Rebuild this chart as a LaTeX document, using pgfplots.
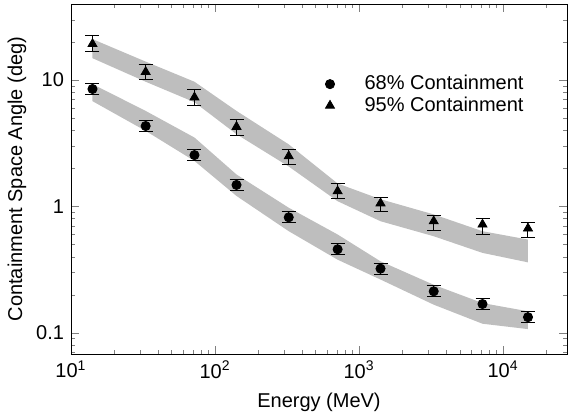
\documentclass[border=0pt]{standalone}
\usepackage{fontspec}
\setmainfont{Liberation Sans}
\usepackage{pgfplots}
\pgfplotsset{compat=1.18}
\definecolor{Band}{RGB}{190,190,190}

\begin{document}
\begin{tikzpicture}
\begin{axis}[
  xmode=log, ymode=log,
  scale only axis, width=248pt, height=175pt,
  xmin=10, xmax=27800, ymin=0.068, ymax=40,
  xtick={10,100,1000,10000},
  xticklabels={10\textsuperscript{1},10\textsuperscript{2},10\textsuperscript{3},10\textsuperscript{4}},
  minor xtick={20,30,40,50,60,70,80,90,200,300,400,500,600,700,800,900,
               2000,3000,4000,5000,6000,7000,8000,9000,20000},
  ytick={0.1,1,10}, yticklabels={0.1,1,10},
  minor ytick={0.07,0.08,0.09,0.2,0.3,0.4,0.5,0.6,0.7,0.8,0.9,2,3,4,5,6,7,8,9,20,30,40},
  major tick length=4pt, minor tick length=2pt,
  xlabel={Energy (MeV)}, ylabel={Containment Space Angle (deg)},
  xlabel style={yshift=-0.5pt}, ylabel style={yshift=-2pt},
  tick align=inside,
  legend style={at={(0.5,0.82)}, anchor=north west, draw=none, fill=none,
                row sep=-2pt, column sep=13pt},
  legend cell align=left,
  error bars/error bar style={line width=0.5pt, black},
  error bars/error mark options={rotate=90, mark size=3.5pt, line width=0.5pt, black},
]
% 95% band
\addplot[fill=Band, draw=none, forget plot] coordinates {
  (14.1,21.1) (33,14.0) (72,9.7) (141,5.70) (325,3.10) (710,1.52)
  (1410,1.14) (3300,0.865) (7200,0.637) (14900,0.547)
  (14900,0.361) (7200,0.429) (3300,0.581) (1410,0.764) (710,1.10)
  (325,2.07) (141,3.73) (72,6.68) (33,9.70) (14.1,14.9)
} -- cycle;
% 68% band
\addplot[fill=Band, draw=none, forget plot] coordinates {
  (14.1,9.29) (33,5.70) (72,3.51) (141,1.79) (325,0.977) (710,0.600)
  (1410,0.368) (3300,0.240) (7200,0.172) (14900,0.148)
  (14900,0.107) (7200,0.118) (3300,0.167) (1410,0.264) (710,0.379)
  (325,0.637) (141,1.21) (72,2.29) (33,3.96) (14.1,6.81)
} -- cycle;

\addplot[only marks, mark=*, mark size=2.3pt, black,
         error bars/.cd, y dir=both, y explicit] coordinates {
  (14.1,8.5)   += (0,0.9)   -= (0,0.8)
  (33,4.33)    += (0,0.46)  -= (0,0.42)
  (72,2.55)    += (0,0.27)  -= (0,0.24)
  (141,1.48)   += (0,0.16)  -= (0,0.14)
  (325,0.82)   += (0,0.09)  -= (0,0.08)
  (710,0.458)  += (0,0.049) -= (0,0.044)
  (1410,0.322) += (0,0.034) -= (0,0.031)
  (3300,0.213) += (0,0.023) -= (0,0.020)
  (7200,0.169) += (0,0.018) -= (0,0.016)
  (14900,0.133) += (0,0.014) -= (0,0.013)
};
\addlegendentry{68\% Containment}

\addplot[only marks, mark=triangle*, mark size=2.6pt, black,
         error bars/.cd, y dir=both, y explicit] coordinates {
  (14.1,19.3)  += (0,3.2)   -= (0,2.4)
  (33,11.6)    += (0,1.6)   -= (0,1.55)
  (72,7.3)     += (0,1.08)  -= (0,0.96)
  (141,4.27)   += (0,0.63)  -= (0,0.61)
  (325,2.5)    += (0,0.33)  -= (0,0.37)
  (710,1.32)   += (0,0.20)  -= (0,0.16)
  (1410,1.06)  += (0,0.12)  -= (0,0.15)
  (3300,0.764) += (0,0.085) -= (0,0.119)
  (7200,0.72)  += (0,0.083) -= (0,0.117)
  (14900,0.67) += (0,0.080) -= (0,0.105)
};
\addlegendentry{95\% Containment}
\end{axis}
\path ([shift={(-35.5pt,-31pt)}]current axis.south west)
  rectangle ([shift={(5.5pt,2pt)}]current axis.north east);
\end{tikzpicture}
\end{document}
